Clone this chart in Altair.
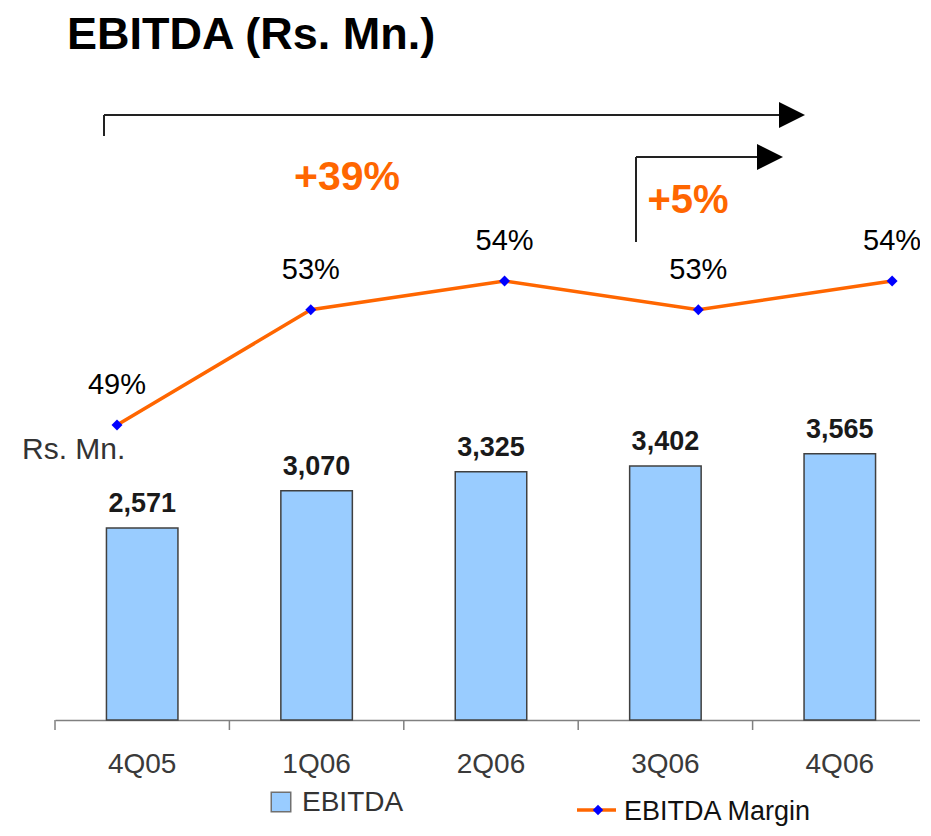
import altair as alt
import pandas as pd

# ---- data ----
quarters = ["4Q05", "1Q06", "2Q06", "3Q06", "4Q06"]
ebitda = [2571, 3070, 3325, 3402, 3565]
ebitda_labels = ["2,571", "3,070", "3,325", "3,402", "3,565"]
margin = [49, 53, 54, 53, 54]
margin_labels = ["49%", "53%", "54%", "53%", "54%"]
tick_bounds = [0, 1, 2, 3, 4, 5]   # category boundaries for axis ticks

df = pd.DataFrame({"q": quarters, "ebitda": ebitda, "elab": ebitda_labels,
                   "margin": margin, "mlab": margin_labels})
ticks_df = pd.DataFrame({"b": tick_bounds})
one = pd.DataFrame({"k": [0]})

FONT = "Liberation Sans"
W, H = 865, 630
XR = [0, 872]
BAR_FILL = "#99CCFF"
ORANGE = "#FF6600"
BLUE = "#0000FF"
AXIS_GRAY = "#808080"

# ---- bars ----
xb = alt.X("q:N", sort=quarters,
           scale=alt.Scale(type="band", range=XR, paddingInner=0.59, paddingOuter=0.295),
           axis=alt.Axis(title=None, labelAngle=0, grid=False, ticks=False,
                         labelFont=FONT, labelFontSize=28, labelColor="#3a3a3a",
                         labelBaseline="alphabetic", labelPadding=52,
                         domainColor=AXIS_GRAY, domainWidth=1.5))
yb = alt.Y("ebitda:Q", scale=alt.Scale(domain=[0, 8439], nice=False, zero=True), axis=None)

bars = alt.Chart(df).mark_bar(fill=BAR_FILL, stroke="#404040", strokeWidth=1.5).encode(x=xb, y=yb)
bar_text = alt.Chart(df).mark_text(font=FONT, fontSize=27, fontWeight="bold", color="#1a1a1a",
                                   baseline="alphabetic", dy=-16).encode(x=xb, y=yb, text="elab:N")
bar_layer = alt.layer(bars, bar_text)

# ---- axis ticks at category boundaries ----
axis_ticks = alt.Chart(ticks_df).mark_rule(color=AXIS_GRAY, strokeWidth=1.5).encode(
    x=alt.X("b:Q", scale=alt.Scale(domain=[0, 5], range=XR, nice=False, zero=False), axis=None),
    y=alt.value(H), y2=alt.value(H + 10))

# ---- margin line ----
xl = alt.X("q:N", sort=quarters,
           scale=alt.Scale(type="point", range=XR, padding=0.25, align=0.64), axis=None)
yl = alt.Y("margin:Q", scale=alt.Scale(domain=[38.76, 60.63], nice=False, zero=False), axis=None)

line = alt.Chart(df).mark_line(color=ORANGE, strokeWidth=3.5).encode(x=xl, y=yl)
pts = alt.Chart(df).mark_point(shape="diamond", filled=True, size=120, color=BLUE,
                               opacity=1).encode(x=xl, y=yl)
line_text = alt.Chart(df).mark_text(font=FONT, fontSize=29, color="#000000",
                                    baseline="alphabetic", dy=-31).encode(x=xl, y=yl, text="mlab:N")
line_layer = alt.layer(line, pts, line_text)


# ---- annotations ----
def txt(s, x, y, size, color, weight="normal", align="left", font=FONT):
    return alt.Chart(one).mark_text(text=s, font=font, fontSize=size, color=color,
                                    fontWeight=weight, align=align,
                                    baseline="alphabetic").encode(x=alt.value(x), y=alt.value(y))


def hrule(x1, x2, y, color="#222222", w=2):
    return alt.Chart(one).mark_rule(color=color, strokeWidth=w).encode(
        x=alt.value(x1), x2=alt.value(x2), y=alt.value(y))


def vrule(x, y1, y2, color="#222222", w=2):
    return alt.Chart(one).mark_rule(color=color, strokeWidth=w).encode(
        x=alt.value(x), y=alt.value(y1), y2=alt.value(y2))


def arrowhead(x, y, size=676):
    return alt.Chart(one).mark_point(shape="M -1 -1 L 1 0 L -1 1 Z", filled=True, size=size,
                                     color="#000000", opacity=1).encode(
        x=alt.value(x), y=alt.value(y))


annots = [
    txt("EBITDA (Rs. Mn.)", 12, -41, 45, "#000000", weight="bold"),
    vrule(49, 25, 46), hrule(49, 725, 25), arrowhead(737, 25),
    vrule(581, 67, 152), hrule(581, 703, 67), arrowhead(715, 67),
    txt("+39%", 292, 100, 41, ORANGE, weight="bold", align="center"),
    txt("+5%", 633, 123, 40, ORANGE, weight="bold", align="center"),
    txt("Rs. Mn.", -33, 369, 30, "#333333"),
    # legend
    alt.Chart(one).mark_point(shape="square", filled=True, fill=BAR_FILL, stroke="#707070",
                              strokeWidth=1.5, size=380, opacity=1).encode(
        x=alt.value(226), y=alt.value(712)),
    txt("EBITDA", 247, 721, 28, "#333333"),
    hrule(522, 561, 720, color=ORANGE, w=3.5),
    alt.Chart(one).mark_point(shape="diamond", filled=True, size=110, color=BLUE,
                              opacity=1).encode(x=alt.value(543), y=alt.value(720)),
    txt("EBITDA Margin", 569, 730, 27, "#111111"),
]

chart = alt.layer(bar_layer, axis_ticks, line_layer, *annots).resolve_scale(
    x="independent", y="independent"
).properties(
    width=W, height=H,
    autosize=alt.AutoSizeParams(type="none"),
    padding={"left": 47, "top": 82, "right": 0, "bottom": 108},
    background="white",
).configure_view(stroke=None)

chart.save("out.html", embed_options={"renderer": "svg", "actions": False})
